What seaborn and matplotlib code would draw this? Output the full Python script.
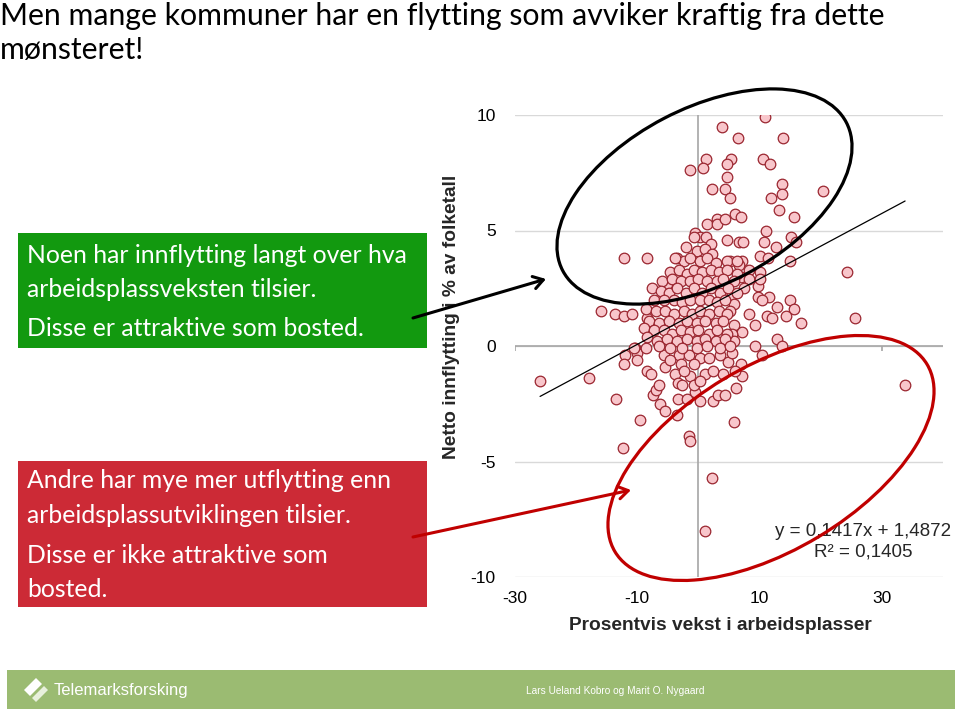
import numpy as np
import pandas as pd
import matplotlib
matplotlib.use("Agg")
import matplotlib.pyplot as plt
import seaborn as sns
from matplotlib.patches import Ellipse, Rectangle, FancyArrowPatch, Polygon

# ---------------- data ----------------
title_lines = ["Men mange kommuner har en flytting som avviker kraftig fra dette",
               "mønsteret!"]
green_lines = ["Noen har innflytting langt over hva",
               "arbeidsplassveksten tilsier.",
               "Disse er attraktive som bosted."]
red_lines = ["Andre har mye mer utflytting enn",
             "arbeidsplassutviklingen tilsier.",
             "Disse er ikke attraktive som",
             "bosted."]
x_label = "Prosentvis vekst i arbeidsplasser"
y_label = "Netto innflytting i % av folketall"
x_ticks = [-30, -10, 10, 30]
y_ticks = [-10, -5, 0, 5, 10]
trend_slope = 0.1417
trend_intercept = 1.4872
equation_text = "y = 0,1417x + 1,4872"
r2_text = "R² = 0,1405"
footer_org = "Telemarksforsking"
footer_authors = "Lars Ueland Kobro og Marit O. Nygaard"

# percent growth in jobs (x) and net in-migration in % of population (y)
growth = [
    3.9, 6.4, 10.9, 13.8, 1.2, 0.7, -1.3, 5.4, 4.7, 10.5, 11.7, 4.6, 13.7, 20.4, 2.2, 4.3,
    5.1, 13.7, 11.9, 13.1, 6.0, 7.0, 15.7, 1.4, 3.1, 3.0, 4.4, 11.1, -0.5, 0.3, 1.3, -0.8,
    -2.1, 2.0, 4.6, 6.6, 7.3, 10.7, 15.2, 15.9, 12.7, 10.0, 11.4, 15.0, 24.3, 25.6, 33.8,
    9.8, 9.8, 11.5, 10.4, 8.2, 9.3, 11.2, 12.0, 12.9, 15.0, 15.6, 14.3, 16.8, 12.9, 13.7,
    10.4, 9.2, 6.9, 7.2, 6.1, 7.2, 7.1, 5.2, 6.6, 10.0, 8.3, 6.9, 8.2, 10.1, 7.4, 5.5,
    5.8, 5.2, 5.8, 5.5, 5.8,
    -25.9, -17.9, -13.4, -12.3, -9.6, -12.0, -12.2, -10.3, -10.0, -10.0, -8.4, -7.8, -7.5,
    -7.0, -6.5, -6.3, -5.5, -3.5, -3.3, -1.9, -1.6, -1.3, 5.8, 2.3, 1.0, -5.4, -0.5, 0.2,
    2.4, 3.2, 4.4, 4.1, -3.8, -3.4, -2.7, -1.3, -0.8, 1.1, 0.3, 2.4, 4.9, 6.0, -5.7, -3.2,
    -1.6, 0.3, 1.7, 3.6, 5.5, -4.6, -2.9, -0.8, -2.4, -8.6,
    -12.1, -8.4, -16.0, -13.7, -12.2, -10.9, -8.4,
    -0.2, 1.1, 2.2, -3.5, -2.4, -1.3, 0.3, 1.4, 2.8, 4.7, 6.3, -3.8, -5.1,
    -4.6, -3.2, -1.8, -0.8, 0.6, 2.0, 3.3, 4.7, 6.3, -5.9, -4.3, -2.9, -1.3, 0.0, 1.4,
    3.1, 4.1, 5.8,
    -7.6, -6.2, -4.8, -3.5, -2.1, -0.8, 0.6, 2.0, 3.6, 4.9, 6.3, -7.3, -5.7, -4.0, -2.7,
    -1.3, 0.3, 1.7, 3.1, 4.4,
    -8.6, -7.0, -5.4, -4.0, -2.4, -1.0, 0.3, 1.7, 3.3, 4.7, -8.1, -6.5, -4.8, -3.2, -1.8,
    -0.2, 1.1, 2.8, 4.1,
    -8.9, -7.3, -5.7, -4.3, -2.9, -1.3, 0.0, 1.7, 3.0, 4.7, -8.4, -6.7, -5.1, -3.5, -1.8,
    -0.2, 1.1, 2.8, 4.4,
    -10.6, -6.5, -4.6, -2.7, -0.2, 1.4, 3.6, 5.2,
]
netflow = [
    9.5, 9.0, 9.9, 9.0, 8.1, 7.7, 7.6, 8.1, 7.9, 8.1, 7.9, 7.3, 7.0, 6.7, 6.8, 6.8,
    6.4, 6.6, 6.4, 5.9, 5.7, 5.6, 5.6, 5.3, 5.5, 5.3, 5.5, 5.0, 4.9, 4.7, 4.7, 4.7,
    4.3, 4.4, 4.6, 4.5, 4.5, 4.5, 4.7, 4.5, 4.3, 3.9, 3.8, 3.7, 3.2, 1.2, -1.7,
    2.6, 2.1, 2.1, 2.0, 1.4, 0.9, 1.3, 1.2, 1.7, 2.0, 1.6, 1.3, 1.0, 0.3, 0.0,
    -0.4, 0.0, -0.8, -1.3, -1.8, 0.6, 3.7, 3.7, 3.5, 3.2, 3.3, 3.0, 2.9, 2.9, 2.5, 2.2,
    1.8, 1.5, 0.9, 0.5, 0.2,
    -1.5, -1.4, -2.3, -4.4, -3.2, -0.4, -0.8, -0.1, -0.3, -0.6, -1.1, -1.2, -2.1,
    -1.9, -1.7, -2.5, -2.8, -3.0, -2.3, -2.3, -3.9, -4.1, -3.3, -5.7, -8.0, -0.9, -2.0, -2.4,
    -2.4, -2.1, -2.1, -1.2, -1.2, -1.6, -1.7, -1.3, -1.7, -1.2, -1.5, -1.1, -0.7, -1.1, -0.4, -0.4,
    -0.4, -0.5, -0.5, -0.4, -0.3, -0.6, -0.8, -0.8, -1.1, -0.1,
    3.8, 3.8, 1.5, 1.4, 1.3, 1.4, 1.2,
    4.1, 4.2, 4.0, 3.8, 3.7, 3.8, 3.7, 3.8, 3.6, 3.7, 3.7, 3.8, 2.7,
    3.2, 3.3, 3.1, 3.3, 3.2, 3.3, 3.2, 3.3, 3.1, 2.8, 2.9, 2.8, 2.8, 2.9, 2.8,
    2.8, 2.9, 2.8,
    2.5, 2.4, 2.3, 2.5, 2.3, 2.5, 2.3, 2.5, 2.3, 2.5, 2.3, 2.0, 2.0, 2.0, 1.9,
    2.0, 2.0, 2.0, 1.9, 2.0,
    1.6, 1.5, 1.5, 1.4, 1.5, 1.4, 1.5, 1.4, 1.5, 1.4, 1.1, 1.0, 1.1, 1.0, 1.1,
    1.0, 1.1, 1.0, 1.1,
    0.8, 0.7, 0.7, 0.5, 0.7, 0.6, 0.7, 0.5, 0.7, 0.5, 0.4, 0.2, 0.3, 0.2, 0.3,
    0.2, 0.3, 0.2, 0.3,
    -0.1, 0.0, -0.1, -0.1, -0.1, 0.0, -0.1, 0.0,
]

df = pd.DataFrame({"vekst": growth, "netto": netflow})

# ---------------- style ----------------
sns.set_style("white")
plt.rcParams["font.family"] = ["Liberation Sans", "DejaVu Sans"]

W, H = 960, 715
fig = plt.figure(figsize=(W / 100, H / 100), dpi=100)
fig.patch.set_facecolor("white")


def fx(p):
    return p / W


def fy(p):
    return 1 - p / H


def inch(px, py):
    return (px / 100, (H - py) / 100)


TXT = ["Lato", "DejaVu Sans"]

# ---------------- title ----------------
fig.text(fx(0), fy(25), title_lines[0], family=TXT, fontsize=21.8,
         va="baseline", ha="left", color="black")
fig.text(fx(0), fy(59), title_lines[1], family=TXT, fontsize=21.8,
         va="baseline", ha="left", color="black")

# ---------------- text boxes ----------------
fig.add_artist(Rectangle((fx(18), fy(348)), fx(427) - fx(18), fy(233) - fy(348),
                         transform=fig.transFigure, color="#12990F", lw=0, zorder=1))
fig.add_artist(Rectangle((fx(18), fy(607)), fx(427) - fx(18), fy(461) - fy(607),
                         transform=fig.transFigure, color="#CC2A36", lw=0, zorder=1))
for txt, base in zip(green_lines, [263, 297, 336]):
    fig.text(fx(27), fy(base), txt, family=TXT, fontsize=17.8,
             color="white", va="baseline", ha="left", zorder=2)
for txt, base in zip(red_lines, [488, 523, 563, 597]):
    fig.text(fx(27), fy(base), txt, family=TXT, fontsize=17.8,
             color="white", va="baseline", ha="left", zorder=2)

# ---------------- scatter axes ----------------
ax = fig.add_axes([fx(515), fy(577), fx(943) - fx(515), fy(115) - fy(577)])
ax.set_facecolor("none")
ax.set_xlim(-30, 40)
ax.set_ylim(-10, 10)
for s in ax.spines.values():
    s.set_visible(False)
ax.set_yticks(y_ticks)
ax.set_xticks(x_ticks)
ax.set_yticklabels([str(v) for v in y_ticks])
ax.set_xticklabels([str(v) for v in x_ticks])
ax.tick_params(axis="y", length=0, pad=14, labelsize=12.5, colors="black")
ax.tick_params(axis="x", length=0, pad=10, labelsize=12.5, colors="black")
ax.yaxis.grid(True, color="#D9D9D9", lw=1.0)
ax.xaxis.grid(False)
ax.set_axisbelow(True)
ax.axhline(0, color="#A6A6A6", lw=1.2, zorder=1)
ax.axvline(0, color="#A6A6A6", lw=1.2, zorder=1)
ax.vlines(x_ticks, -0.22, 0, color="#A6A6A6", lw=1.2, zorder=1)

sns.scatterplot(data=df, x="vekst", y="netto", ax=ax, s=58, color="#F8C6CB",
                edgecolor="#9B2630", linewidth=0.9, legend=False, zorder=3)

xs = np.array([min(growth), max(growth)])
ax.plot(xs, trend_slope * xs + trend_intercept, color="black", lw=0.9, zorder=4)
ax.set_xlabel("")
ax.set_ylabel("")

fig.text(fx(863), fy(531), equation_text, fontsize=13.5, ha="center", va="center")
fig.text(fx(863), fy(552), r2_text, fontsize=13.5, ha="center", va="center")
fig.text(fx(720), fy(626), x_label, fontsize=13.8, fontweight="bold", ha="center", va="center")
fig.text(fx(452), fy(317), y_label, fontsize=13.8, fontweight="bold", ha="center", va="center",
         rotation=90)

# ---------------- ellipses & arrows ----------------
fig.add_artist(Ellipse(inch(704.5, 196.5), 3.20, 1.76, angle=27.6, fill=False,
                       ec="black", lw=2.3, transform=fig.dpi_scale_trans, zorder=5))
fig.add_artist(Ellipse(inch(771, 458), 3.64, 1.84, angle=31, fill=False,
                       ec="#C00000", lw=2.3, transform=fig.dpi_scale_trans, zorder=5))
fig.add_artist(FancyArrowPatch(inch(413, 318), inch(546, 279), arrowstyle="->,head_length=7,head_width=4.5",
                               color="black", lw=2.2, transform=fig.dpi_scale_trans, zorder=5,
                               shrinkA=0, shrinkB=0))
fig.add_artist(FancyArrowPatch(inch(413, 537), inch(631, 490), arrowstyle="->,head_length=7,head_width=4.5",
                               color="#C00000", lw=2.2, transform=fig.dpi_scale_trans, zorder=5,
                               shrinkA=0, shrinkB=0))

# ---------------- footer ----------------
fig.add_artist(Rectangle((fx(7), fy(709)), fx(955) - fx(7), fy(670) - fy(709),
                         transform=fig.transFigure, color="#9BBB72", lw=0, zorder=1))
fig.add_artist(Polygon([(fx(24), fy(690)), (fx(36), fy(678)), (fx(42), fy(684)), (fx(30), fy(696))],
                       closed=True, transform=fig.transFigure, fc="white", ec="none", zorder=2))
fig.add_artist(Polygon([(fx(32), fy(698)), (fx(44), fy(686)), (fx(48), fy(690)), (fx(36), fy(702))],
                       closed=True, transform=fig.transFigure, fc="#E8F0DC", ec="none", zorder=2))
fig.text(fx(54), fy(691), footer_org, family=["Liberation Sans Narrow", "Liberation Sans"],
         fontsize=12, color="white", va="center", ha="left", zorder=3)
fig.text(fx(615), fy(691), footer_authors, family=["Liberation Sans Narrow", "Liberation Sans"],
         fontsize=7.3, color="white", va="center", ha="center", zorder=3)

fig.savefig("out.png", dpi=100, facecolor="white")
